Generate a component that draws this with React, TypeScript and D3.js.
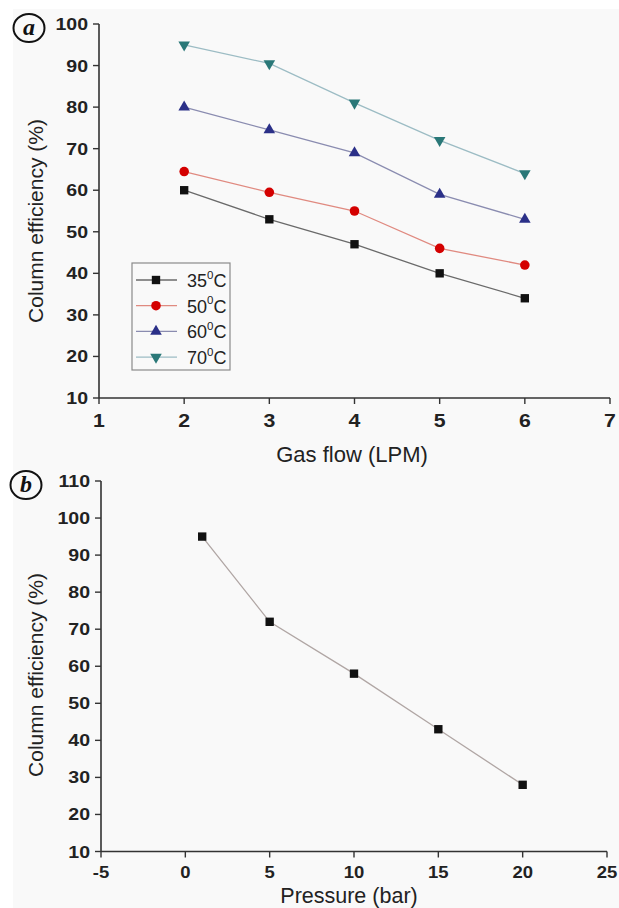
import React from "react";
import * as d3 from "d3";

const gasFlow = [2, 3, 4, 5, 6];
const eff35 = [60, 53, 47, 40, 34];
const eff50 = [64.5, 59.5, 55, 46, 42];
const eff60 = [80, 74.5, 69, 59, 53];
const eff70 = [95, 90.5, 81, 72, 64];
const seriesNames = ["35", "50", "60", "70"];

const pressure = [1, 5, 10, 15, 20];
const effPressure = [95, 72, 58, 43, 28];

const xTicksA = [1, 2, 3, 4, 5, 6, 7];
const yTicksA = [10, 20, 30, 40, 50, 60, 70, 80, 90, 100];
const xTicksB = [-5, 0, 5, 10, 15, 20, 25];
const yTicksB = [10, 20, 30, 40, 50, 60, 70, 80, 90, 100, 110];

const styles = [
  { marker: "#111111", line: "#6a6a6a", symbol: d3.symbolSquare, size: 70, rot: 0 },
  { marker: "#d40000", line: "#e08a80", symbol: d3.symbolCircle, size: 72, rot: 0 },
  { marker: "#2b3088", line: "#8a8cb0", symbol: d3.symbolTriangle, size: 58, rot: 0 },
  { marker: "#2a7878", line: "#9cbcc4", symbol: d3.symbolTriangle, size: 58, rot: 180 },
];

const FONT = "'Liberation Sans', Arial, sans-serif";
const AXIS = "#333";

function Axes({ x, y, xTicks, yTicks, xLabelY, fsX, fsY }) {
  const [x0, x1] = x.range();
  const [y0, y1] = y.range();
  return (
    <g>
      <line x1={x0} x2={x1} y1={y0} y2={y0} stroke={AXIS} strokeWidth={1.6} />
      <line x1={x0} x2={x0} y1={y0} y2={y1} stroke={AXIS} strokeWidth={1.6} />
      {xTicks.map((t) => (
        <g key={"x" + t}>
          <line x1={x(t)} x2={x(t)} y1={y0} y2={y0 + 6} stroke={AXIS} strokeWidth={1.4} />
          <text
            transform={`translate(${x(t)},${y0 + xLabelY}) scale(1.12,1)`}
            textAnchor="middle"
            fontFamily={FONT}
            fontWeight="bold"
            fontSize={fsX}
            fill="#222"
          >
            {t}
          </text>
        </g>
      ))}
      {yTicks.map((t) => (
        <g key={"y" + t}>
          <line x1={x0 - 6} x2={x0} y1={y(t)} y2={y(t)} stroke={AXIS} strokeWidth={1.4} />
          <text
            transform={`translate(${x0 - 11},${y(t) + 6}) scale(1.15,1)`}
            textAnchor="end"
            fontFamily={FONT}
            fontWeight="bold"
            fontSize={fsY}
            fill="#222"
          >
            {t}
          </text>
        </g>
      ))}
    </g>
  );
}

function Marker({ cx, cy, st }) {
  const d = d3.symbol().type(st.symbol).size(st.size)();
  return <path d={d || ""} transform={`translate(${cx},${cy}) rotate(${st.rot})`} fill={st.marker} />;
}

function PanelLabel({ cx, cy, letter }) {
  return (
    <g>
      <ellipse cx={cx} cy={cy} rx={15.5} ry={14} fill="none" stroke="#111" strokeWidth={2} />
      <text
        x={cx}
        y={cy + 7}
        textAnchor="middle"
        fontFamily="'Liberation Serif', 'DejaVu Serif', serif"
        fontStyle="italic"
        fontWeight="bold"
        fontSize={24}
        fill="#111"
      >
        {letter}
      </text>
    </g>
  );
}

export default function App() {
  const xA = d3.scaleLinear().domain([1, 7]).range([99, 610]);
  const yA = d3.scaleLinear().domain([10, 100]).range([398, 24]);
  const xB = d3.scaleLinear().domain([-5, 25]).range([101, 607]);
  const yB = d3.scaleLinear().domain([10, 110]).range([851.5, 481]);

  const seriesA = [eff35, eff50, eff60, eff70];
  const lineA = d3
    .line<number>()
    .x((_, i) => xA(gasFlow[i]))
    .y((d) => yA(d));
  const lineB = d3
    .line<number>()
    .x((_, i) => xB(pressure[i]))
    .y((d) => yB(d));

  const legX = 132;
  const legY = 263;
  const rowH = 25.7;

  return (
    <svg
      width={619}
      height={908}
      style={{ position: "absolute", left: 0, top: 0, background: "#fff" }}
    >
      <rect x={13} y={9} width={606} height={899} fill="#f9f9f9" />

      {/* Panel a */}
      <PanelLabel cx={29} cy={28} letter="a" />
      <Axes x={xA} y={yA} xTicks={xTicksA} yTicks={yTicksA} xLabelY={29} fsX={19} fsY={17} />
      {seriesA.map((s, si) => (
        <path key={"l" + si} d={lineA(s) || ""} fill="none" stroke={styles[si].line} strokeWidth={1.3} />
      ))}
      {seriesA.map((s, si) =>
        s.map((v, i) => <Marker key={"m" + si + "-" + i} cx={xA(gasFlow[i])} cy={yA(v)} st={styles[si]} />)
      )}

      {/* Legend */}
      <rect x={legX} y={legY} width={98} height={107} fill="#f9f9f9" stroke="#8a8a8a" strokeWidth={1.2} />
      {seriesNames.map((n, i) => {
        const cy = legY + 17 + i * rowH;
        return (
          <g key={"leg" + n}>
            <line x1={legX + 4} x2={legX + 45} y1={cy} y2={cy} stroke={styles[i].line} strokeWidth={1.3} />
            <Marker cx={legX + 24} cy={cy} st={styles[i]} />
            <text x={legX + 55} y={cy + 7} fontFamily={FONT} fontSize={18} fill="#222">
              {n}
              <tspan fontSize={11.5} dy={-8.5}>
                0
              </tspan>
              <tspan dy={8.5}>C</tspan>
            </text>
          </g>
        );
      })}

      <text
        x={352}
        y={462}
        textAnchor="middle"
        fontFamily={FONT}
        fontSize={22}
        fill="#222"
      >
        Gas flow (LPM)
      </text>
      <text
        transform={`translate(43,${221}) rotate(-90)`}
        textAnchor="middle"
        fontFamily={FONT}
        fontSize={21}
        fill="#222"
      >
        Column efficiency (%)
      </text>

      {/* Panel b */}
      <PanelLabel cx={26} cy={485} letter="b" />
      <Axes x={xB} y={yB} xTicks={xTicksB} yTicks={yTicksB} xLabelY={26.5} fsX={16.5} fsY={17} />
      <path d={lineB(effPressure) || ""} fill="none" stroke="#b0a6a4" strokeWidth={1.3} />
      {effPressure.map((v, i) => (
        <Marker key={"b" + i} cx={xB(pressure[i])} cy={yB(v)} st={styles[0]} />
      ))}
      <text
        x={349}
        y={903}
        textAnchor="middle"
        fontFamily={FONT}
        fontSize={21.5}
        fill="#222"
      >
        Pressure (bar)
      </text>
      <text
        transform={`translate(43,${675}) rotate(-90)`}
        textAnchor="middle"
        fontFamily={FONT}
        fontSize={21}
        fill="#222"
      >
        Column efficiency (%)
      </text>
    </svg>
  );
}
